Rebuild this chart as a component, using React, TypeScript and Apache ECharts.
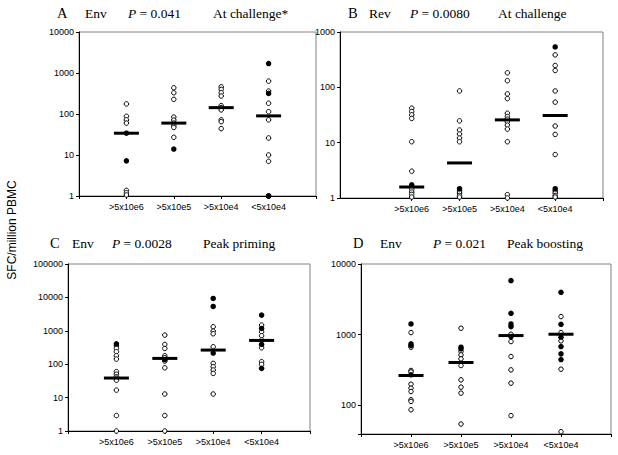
import React, { useEffect, useRef } from 'react';
import * as echarts from 'echarts';

// ---- text / categories ----
const categories = ['>5x10e6', '>5x10e5', '>5x10e4', '<5x10e4'];
const panelLetters = ['A', 'B', 'C', 'D'];
const antigens = ['Env', 'Rev', 'Env', 'Env'];
const pValues = ['0.041', '0.0080', '0.0028', '0.021'];
const timepoints = ['At challenge*', 'At challenge', 'Peak priming', 'Peak boosting'];
const yTitle = 'SFC/million PBMC';

// ---- axis ranges ----
const yMins = [1, 1, 1, 39];
const yMaxs = [10000, 1000, 100000, 10000];

// ---- Panel A: Env, at challenge ----
const aOpen = [
  [176, 88, 72, 60, 1.37, 1.2, 1.06],
  [436, 330, 228, 84, 71, 60, 52, 47, 27],
  [460, 398, 330, 274, 160, 143, 126, 72, 65, 44],
  [633, 362, 183, 114, 72, 26, 10, 7],
];
const aFilled = [[34, 7.2], [14], [], [1700, 318, 1, 1]];
const aMedian = [34, 60, 143, 90];

// ---- Panel B: Rev, at challenge ----
const bOpen = [
  [42, 36.5, 31.8, 27.4, 10.4, 3.05, 1.57, 1.43, 1.28, 1.16, 1.04],
  [86, 24.8, 16.9, 14.3, 12.1, 10.4, 1.34, 1.23, 1.11, 1.04],
  [183, 132, 76, 62.5, 34, 29.7, 26.6, 23.8, 20.7, 17.6, 10.4, 1.15, 1.0],
  [386, 248, 202, 86, 54, 20, 14.1, 6.1, 1.34, 1.23, 1.11, 1.04],
];
const bFilled = [[1.73], [1.47], [], [537, 1.47]];
const bMedian = [1.58, 4.3, 25.8, 31];

// ---- Panel C: Env, peak priming ----
const cOpen = [
  [357, 297, 236, 179, 142, 60, 50, 42, 38, 33, 16.8, 2.9, 1],
  [744, 391, 297, 179, 156, 124, 78, 12.8, 2.9, 1],
  [1320, 979, 815, 333, 106, 84, 67, 53, 12.8],
  [1482, 935, 710, 530, 311, 119, 99],
];
const cFilled = [[409], [136], [9290, 5360, 215], [2950, 1177, 391, 75]];
const cMedian = [38.5, 149, 265, 515];

// ---- Panel D: Env, peak boosting ----
const dOpen = [
  [1067, 662, 310, 296, 198, 174, 156, 119, 113, 86],
  [1230, 575, 515, 453, 364, 228, 180, 148, 54],
  [1011, 796, 488, 316, 205, 71],
  [1798, 1067, 813, 323, 42],
];
const dFilled = [[1416, 738, 699, 269], [662, 627], [5808, 2004, 1416, 1297, 937], [3972, 1400, 917, 677, 533, 443]];
const dMedian = [263, 402, 968, 1011];

const openSets = [aOpen, bOpen, cOpen, dOpen];
const filledSets = [aFilled, bFilled, cFilled, dFilled];
const medianSets = [aMedian, bMedian, cMedian, dMedian];

// ---- layout ----
const grids = [
  { left: 79, top: 32, width: 237, height: 164 },
  { left: 340, top: 32, width: 263, height: 166 },
  { left: 68, top: 264, width: 242, height: 167 },
  { left: 361, top: 264, width: 250, height: 170 },
];
const xMins = [0, -0.5, 0, 0];
const xMax = 5;
const titleRows = [
  { y: 13, xs: [57, 85, 128, 213] },
  { y: 13, xs: [348, 369, 410, 498] },
  { y: 243, xs: [50, 72, 112, 203] },
  { y: 243, xs: [353, 380, 433, 507] },
];

const SANS = 'Liberation Sans';
const SERIF = 'Liberation Serif';

function toPoints(sets: number[][]) {
  const out: number[][] = [];
  sets.forEach((vals, ci) => vals.forEach((v) => out.push([ci + 1, v])));
  return out;
}

export default function App() {
  const ref = useRef<HTMLDivElement>(null);
  useEffect(() => {
    if (!ref.current) return;
    const chart = echarts.init(ref.current, null, { renderer: 'svg' });

    const xAxis = grids.map((_, i) => ({
      type: 'value',
      gridIndex: i,
      min: xMins[i],
      max: xMax,
      splitLine: { show: false },
      axisLine: { show: true, onZero: false, lineStyle: { color: '#000', width: 1 } },
      axisTick: {
        show: true,
        length: 3,
        lineStyle: { color: '#000' },
        customValues: i === 1 ? [1, 2, 3, 4, 5] : [0, 1, 2, 3, 4, 5],
      },
      axisLabel: {
        show: true,
        customValues: [1, 2, 3, 4],
        formatter: (v: number) => categories[Math.round(v) - 1] || '',
        fontSize: 9,
        fontFamily: SANS,
        color: '#000',
        margin: 6,
      },
    }));

    const yAxis = grids.map((_, i) => ({
      type: 'log',
      logBase: 10,
      gridIndex: i,
      min: yMins[i],
      max: yMaxs[i],
      splitLine: { show: false },
      axisLine: { show: true, onZero: false, lineStyle: { color: '#000', width: 1 } },
      axisTick: { show: true, length: 3, lineStyle: { color: '#000' } },
      axisLabel: {
        fontSize: 9,
        fontFamily: SANS,
        color: '#000',
        margin: 5,
        formatter: (v: number) => {
          const l = Math.log10(v);
          return Math.abs(l - Math.round(l)) < 1e-6 ? String(Math.round(v)) : '';
        },
      },
    }));

    const series: any[] = [];
    grids.forEach((_, i) => {
      series.push({
        type: 'scatter',
        xAxisIndex: i,
        yAxisIndex: i,
        data: toPoints(openSets[i]),
        symbol: 'circle',
        symbolSize: 4.5,
        itemStyle: { color: '#fff', borderColor: '#000', borderWidth: 1, opacity: 1 },
        z: 2,
        silent: true,
      });
      series.push({
        type: 'scatter',
        xAxisIndex: i,
        yAxisIndex: i,
        data: toPoints(filledSets[i]),
        symbol: 'circle',
        symbolSize: 5.5,
        itemStyle: { color: '#000', opacity: 1 },
        z: 3,
        silent: true,
      });
      series.push({
        type: 'scatter',
        xAxisIndex: i,
        yAxisIndex: i,
        data: medianSets[i].map((m, ci) => [ci + 1, m]),
        symbol: 'rect',
        symbolSize: [25, 3],
        itemStyle: { color: '#000', opacity: 1 },
        z: 4,
        silent: true,
      });
    });

    const graphic: any[] = [];
    titleRows.forEach((row, i) => {
      const texts = [panelLetters[i], antigens[i], '{i|P} = ' + pValues[i], timepoints[i]];
      texts.forEach((t, k) => {
        graphic.push({
          type: 'text',
          x: row.xs[k],
          y: row.y,
          style: {
            text: t,
            fontFamily: SERIF,
            fontSize: k === 0 ? 14.5 : 13.5,
            fill: '#000',
            align: 'left',
            verticalAlign: 'middle',
            rich: { i: { fontStyle: 'italic', fontFamily: SERIF, fontSize: 13.5, fill: '#000' } },
          },
        });
      });
    });
    graphic.push({
      type: 'text',
      x: 12,
      y: 230,
      rotation: Math.PI / 2,
      style: {
        text: yTitle,
        fontFamily: SANS,
        fontSize: 12,
        fill: '#000',
        align: 'center',
        verticalAlign: 'middle',
      },
    });

    chart.setOption({
      animation: false,
      backgroundColor: '#fff',
      grid: grids.map((g) => ({
        ...g,
        show: true,
        borderColor: '#808080',
        borderWidth: 1,
        backgroundColor: 'transparent',
        containLabel: false,
      })),
      xAxis,
      yAxis,
      series,
      graphic,
    });
    return () => chart.dispose();
  }, []);
  return (
    <div
      ref={ref}
      style={{ position: 'absolute', left: 0, top: 0, width: 618, height: 455 }}
    />
  );
}
